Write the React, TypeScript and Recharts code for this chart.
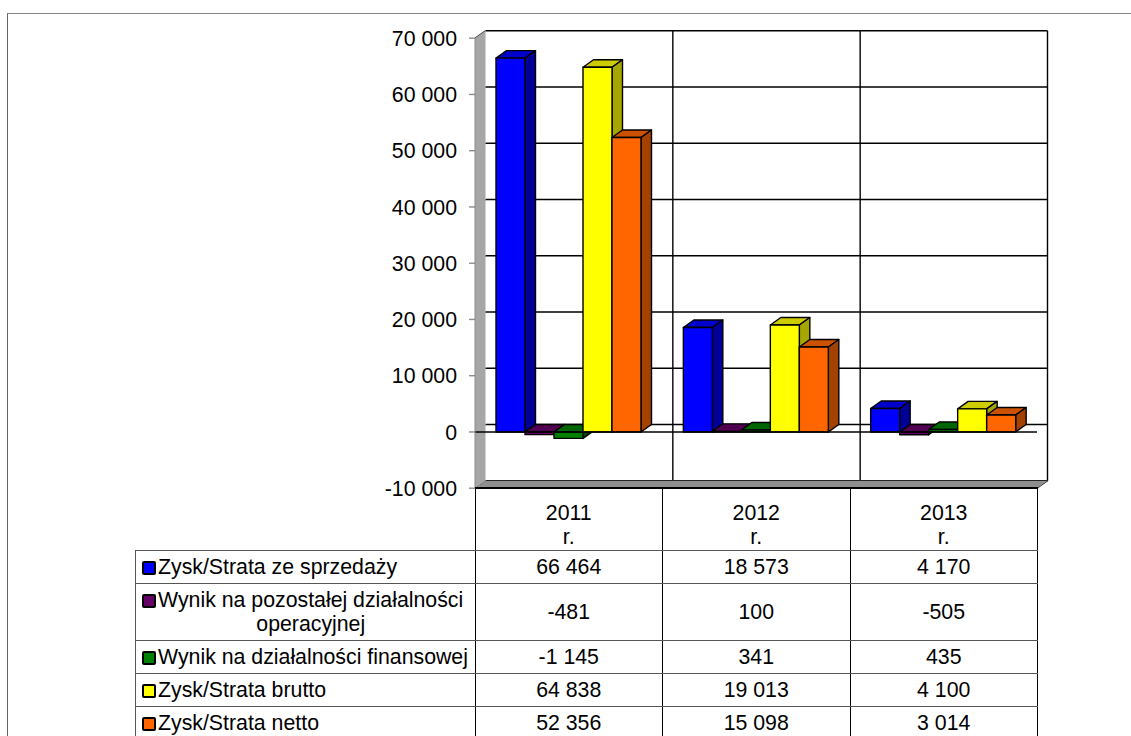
import { BarChart, Bar, XAxis, YAxis, CartesianGrid, ReferenceLine, usePlotArea } from "recharts";

const categories = ["2011 r.", "2012 r.", "2013 r."];
const seriesNames = [
  "Zysk/Strata ze sprzedaży",
  "Wynik na pozostałej działalności operacyjnej",
  "Wynik na działalności finansowej",
  "Zysk/Strata brutto",
  "Zysk/Strata netto",
];
const sprzedaz = [66464, 18573, 4170];
const pozostala = [-481, 100, -505];
const finansowa = [-1145, 341, 435];
const brutto = [64838, 19013, 4100];
const netto = [52356, 15098, 3014];
const seriesValues = [sprzedaz, pozostala, finansowa, brutto, netto];
const yTicks = [-10000, 0, 10000, 20000, 30000, 40000, 50000, 60000, 70000];

const frontColors = ["#0000ff", "#660066", "#008000", "#ffff00", "#ff6600"];
const topColors = ["#0000cc", "#520052", "#006600", "#cccc00", "#cc5200"];
const sideColors = ["#000099", "#3d003d", "#004d00", "#a6a600", "#a34100"];

const DX = 10.5;
const DY = -7.5;
const FONT = "'Liberation Sans', Arial, sans-serif";
const TEXT_SIZE = 21.3;

const fmt = (v: number) => String(v).replace(/\B(?=(\d{3})+$)/g, " ");

const data = categories.map((name, i) => {
  const row: Record<string, string | number> = { name };
  seriesNames.forEach((s, j) => {
    row[s] = seriesValues[j][i];
  });
  return row;
});

function Box3D(props: any) {
  const { x, y, width, height, idx } = props;
  const top = Math.min(y, y + height);
  const h = Math.abs(height);
  const line = { stroke: "#000", strokeWidth: 1.4, strokeLinejoin: "round" as const };
  return (
    <g>
      <polygon
        points={`${x},${top} ${x + DX},${top + DY} ${x + width + DX},${top + DY} ${x + width},${top}`}
        fill={topColors[idx]}
        {...line}
      />
      <polygon
        points={`${x + width},${top} ${x + width + DX},${top + DY} ${x + width + DX},${top + h + DY} ${x + width},${top + h}`}
        fill={sideColors[idx]}
        {...line}
      />
      <rect x={x} y={top} width={width} height={h} fill={frontColors[idx]} {...line} />
    </g>
  );
}

function Walls() {
  const area = usePlotArea();
  if (!area) return null;
  const { x, y, width, height } = area;
  const bottom = y + height;
  return (
    <g>
      <polygon
        points={`${x},${y} ${x + DX},${y + DY} ${x + DX},${bottom + DY} ${x},${bottom}`}
        fill="#a6a6a6"
      />
      <polygon
        points={`${x},${bottom} ${x + DX},${bottom + DY} ${x + width + DX},${bottom + DY} ${x + width},${bottom}`}
        fill="#8f8f8f"
      />
    </g>
  );
}

const cell = {
  border: "1px solid #555",
  borderLeft: "1px solid #000",
  borderRight: "1px solid #000",
  padding: 0,
  textAlign: "center" as const,
  fontSize: TEXT_SIZE,
  lineHeight: "24px",
};

function Swatch({ color }: { color: string }) {
  return (
    <span
      style={{
        display: "inline-block",
        width: 10,
        height: 10,
        border: "2px solid #000",
        borderRadius: 2,
        background: color,
        marginRight: 2,
        verticalAlign: -1,
      }}
    />
  );
}

export default function App() {
  return (
    <div
      style={{
        position: "fixed",
        left: 0,
        top: 0,
        width: 1131,
        height: 736,
        overflow: "hidden",
        background: "#fff",
        fontFamily: FONT,
        color: "#000",
      }}
    >
      <div style={{ position: "absolute", left: 7, top: 13, right: 0, bottom: 0, borderTop: "1px solid #888", borderLeft: "1px solid #666" }} />
      <div style={{ position: "absolute", left: 0, top: 0 }}>
        <BarChart
          width={1131}
          height={520}
          data={data}
          barSize={29}
          barGap={0}
          margin={{ top: 38.2, right: 94, left: 0, bottom: 31.8 }}
        >
          <Walls />
          <CartesianGrid
            verticalCoordinatesGenerator={({ offset }: any) =>
              categories.map((_, i) => offset.left + ((i + 1) * offset.width) / categories.length)
            }
            horizontal={(p: any) => (
              <g key={p.key ?? p.y1}>
                <line x1={p.x1 + DX} x2={p.x2 + DX} y1={p.y1 + DY} y2={p.y2 + DY} stroke="#000" strokeWidth={1.4} />
                <line x1={p.x1} x2={p.x1 + DX} y1={p.y1} y2={p.y1 + DY} stroke="#222" strokeWidth={1.2} />
              </g>
            )}
            vertical={(p: any) => (
              <g key={p.key ?? p.x1}>
                <line x1={p.x1 + DX} x2={p.x2 + DX} y1={p.y1 + DY} y2={p.y2 + DY} stroke="#000" strokeWidth={1.4} />
                <line x1={p.x2} x2={p.x2 + DX} y1={p.y2} y2={p.y2 + DY} stroke="#222" strokeWidth={1.2} />
              </g>
            )}
          />
          <XAxis dataKey="name" hide />
          <YAxis
            width={475}
            domain={[-10000, 70000]}
            ticks={yTicks}
            interval={0}
            tickFormatter={fmt}
            tickSize={6}
            tickMargin={12}
            tick={{ fill: "#000", fontSize: TEXT_SIZE, fontFamily: FONT }}
            axisLine={{ stroke: "#8c8c8c" }}
            tickLine={{ stroke: "#8c8c8c", strokeWidth: 1.4 }}
          />
          <ReferenceLine y={0} stroke="#000" strokeWidth={1.4} />
          {seriesNames.map((s, idx) => (
            <Bar
              key={s}
              dataKey={s}
              isAnimationActive={false}
              fill={frontColors[idx]}
              shape={(p: any) => <Box3D {...p} idx={idx} />}
            />
          ))}
        </BarChart>
      </div>
      <table
        style={{
          position: "absolute",
          left: 135,
          top: 487,
          width: 902,
          tableLayout: "fixed",
          borderCollapse: "collapse",
        }}
      >
        <colgroup>
          <col style={{ width: 339.5 }} />
          <col style={{ width: 187.5 }} />
          <col style={{ width: 187.5 }} />
          <col style={{ width: 187.5 }} />
        </colgroup>
        <tbody>
          <tr style={{ height: 62 }}>
            <td style={{ border: "none", borderRight: "1px solid #000", borderBottom: "1px solid #555" }} />
            {categories.map((c) => (
              <td key={c} style={{ ...cell, borderTop: "2px solid #000", paddingTop: 12 }}>
                {c.split(" ")[0]}
                <br />
                {c.split(" ")[1]}
              </td>
            ))}
          </tr>
          {seriesNames.map((s, j) => {
            const words = s.split(" ");
            const wrapped = s.length > 32;
            return (
              <tr key={s} style={{ height: [33.5, 56.5, 33.5, 33, 33][j] }}>
                <td
                  style={{
                    ...cell,
                    borderLeft: "1px solid #555",
                    textAlign: "left",
                    whiteSpace: "nowrap",
                    paddingLeft: 6,
                  }}
                >
                  <Swatch color={frontColors[j]} />
                  {wrapped ? words.slice(0, -1).join(" ") : s}
                  {wrapped && (
                    <span style={{ display: "block", textAlign: "center", paddingLeft: 5 }}>
                      {words[words.length - 1]}
                    </span>
                  )}
                </td>
                {seriesValues[j].map((v, i) => (
                  <td key={i} style={cell}>
                    {fmt(v)}
                  </td>
                ))}
              </tr>
            );
          })}
        </tbody>
      </table>
    </div>
  );
}
